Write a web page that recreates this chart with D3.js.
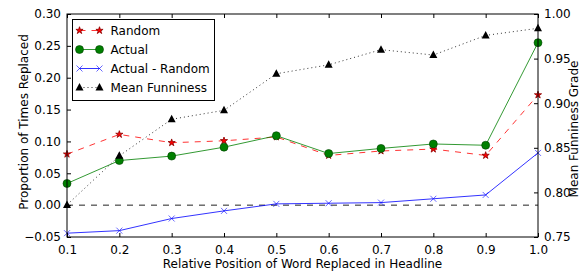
<!DOCTYPE html>
<html>
<head>
<meta charset="utf-8">
<script src="https://cdn.jsdelivr.net/npm/d3@7"></script>
<style>
  body { margin: 0; background: #fff; }
  svg text { font-family: "DejaVu Sans", sans-serif; font-size: 12px; fill: #000; }
</style>
</head>
<body>
<svg id="chart" width="582" height="273"></svg>
<script>
const positions = [0.1, 0.2, 0.3, 0.4, 0.5, 0.6, 0.7, 0.8, 0.9, 1.0];
const random = [0.080, 0.111, 0.098, 0.101, 0.107, 0.078, 0.085, 0.088, 0.078, 0.173];
const actual = [0.034, 0.070, 0.077, 0.091, 0.109, 0.081, 0.089, 0.096, 0.094, 0.255];
const actualMinusRandom = [-0.044, -0.040, -0.021, -0.009, 0.002, 0.003, 0.004, 0.010, 0.016, 0.082];
const meanFunniness = [0.786, 0.841, 0.882, 0.892, 0.933, 0.943, 0.960, 0.954, 0.976, 0.984];
const leftTicks = [-0.05, 0, 0.05, 0.10, 0.15, 0.20, 0.25, 0.30];
const rightTicks = [0.75, 0.80, 0.85, 0.90, 0.95, 1.00];

const margin = { top: 14, right: 44, bottom: 36, left: 67 };
const width = 582 - margin.left - margin.right;
const height = 273 - margin.top - margin.bottom;

const svg = d3.select('#chart');
const g = svg.append('g').attr('transform', `translate(${margin.left},${margin.top})`);

const x = d3.scaleLinear().domain([0.1, 1.0]).range([0, width]);
const yLeft = d3.scaleLinear().domain([-0.05, 0.30]).range([height, 0]);
const yRight = d3.scaleLinear().domain([0.75, 1.00]).range([height, 0]);

// zero reference line
g.append('line')
  .attr('x1', 0).attr('x2', width)
  .attr('y1', yLeft(0)).attr('y2', yLeft(0))
  .attr('stroke', '#222').attr('stroke-dasharray', '6,6');

const line = (ys, scale) => d3.line()
  .x((d, i) => x(positions[i]))
  .y(d => scale(d))(ys);

const series = [
  { name: 'Random', values: random, scale: yLeft, color: '#ff0000', dash: '6,6', marker: 'star', edge: '#8b0000', op: 0.8 },
  { name: 'Actual', values: actual, scale: yLeft, color: '#008000', dash: null, marker: 'circle', edge: '#004000', op: 0.8 },
  { name: 'Actual - Random', values: actualMinusRandom, scale: yLeft, color: '#0000ff', dash: null, marker: 'x', edge: '#0000ff', op: 0.8 },
  { name: 'Mean Funniness', values: meanFunniness, scale: yRight, color: '#000000', dash: '1,3', marker: 'triangle', edge: '#000', op: 0.8 },
];

function drawMarker(sel, s) {
  if (s.marker === 'circle') {
    sel.append('circle').attr('r', 4).attr('fill', s.color).attr('stroke', s.edge).attr('stroke-width', 0.6);
  } else if (s.marker === 'star') {
    sel.append('path').attr('d', d3.symbol(d3.symbolStar, 16)())
      .attr('fill', s.color).attr('stroke', s.edge).attr('stroke-width', 0.8);
  } else if (s.marker === 'triangle') {
    sel.append('path').attr('d', 'M0,-4.5L4,3L-4,3Z').attr('fill', '#000');
  } else if (s.marker === 'x') {
    sel.append('path').attr('d', 'M-3,-3L3,3M-3,3L3,-3')
      .attr('stroke', s.color).attr('stroke-width', 1).attr('stroke-opacity', 0.6).attr('fill', 'none');
  }
}

series.forEach(s => {
  g.append('path')
    .attr('d', line(s.values, s.scale))
    .attr('fill', 'none')
    .attr('stroke', s.color)
    .attr('stroke-opacity', s.op)
    .attr('stroke-width', 1)
    .attr('stroke-dasharray', s.dash);
  g.append('g').selectAll('g')
    .data(s.values)
    .join('g')
    .attr('transform', (d, i) => `translate(${x(positions[i])},${s.scale(d)})`)
    .each(function () { drawMarker(d3.select(this), s); });
});

// frame
g.append('rect').attr('width', width).attr('height', height)
  .attr('fill', 'none').attr('stroke', '#000').attr('stroke-width', 1);

// axes with inward ticks
const xAxis = d3.axisBottom(x).tickValues(positions).tickFormat(d3.format('.1f')).tickSizeInner(-4).tickSizeOuter(0).tickPadding(8);
const xTop = d3.axisTop(x).tickValues(positions).tickFormat('').tickSizeInner(-4).tickSizeOuter(0);
const yAxisL = d3.axisLeft(yLeft).tickValues(leftTicks).tickFormat(d3.format('.2f')).tickSizeInner(-4).tickSizeOuter(0).tickPadding(6);
const yAxisR = d3.axisRight(yRight).tickValues(rightTicks).tickFormat(d3.format('.2f')).tickSizeInner(-4).tickSizeOuter(0).tickPadding(6);

const gx = g.append('g').attr('transform', `translate(0,${height})`).call(xAxis);
const gxt = g.append('g').call(xTop);
const gyl = g.append('g').call(yAxisL);
const gyr = g.append('g').attr('transform', `translate(${width},0)`).call(yAxisR);
[gx, gxt, gyl, gyr].forEach(a => {
  a.select('.domain').remove();
  a.selectAll('line').attr('stroke', '#000');
  a.selectAll('text').attr('font-family', 'DejaVu Sans, sans-serif').attr('font-size', 12).attr('fill', '#000');
});
gyl.selectAll('text').text(d => d3.format('.2f')(d).replace('-', '\u2212'));

// axis labels
svg.append('text')
  .attr('x', margin.left + width / 2).attr('y', 268)
  .attr('text-anchor', 'middle')
  .text('Relative Position of Word Replaced in Headline');
svg.append('text')
  .attr('transform', 'translate(28,122) rotate(-90)')
  .attr('text-anchor', 'middle')
  .text('Proportion of Times Replaced');
svg.append('text')
  .attr('transform', 'translate(578,129) rotate(-90)')
  .attr('text-anchor', 'middle')
  .text('Mean Funniness Grade');

// legend
const legend = svg.append('g').attr('transform', 'translate(72.5,19.5)');
legend.append('rect').attr('width', 142).attr('height', 81)
  .attr('fill', '#fff').attr('stroke', '#000').attr('stroke-width', 1);
series.forEach((s, i) => {
  const row = legend.append('g').attr('transform', `translate(0,${11 + i * 19})`);
  row.append('line').attr('x1', 7).attr('x2', 27).attr('y1', 0).attr('y2', 0)
    .attr('stroke', s.color).attr('stroke-opacity', s.op).attr('stroke-dasharray', s.dash);
  [7, 27].forEach(px => drawMarker(row.append('g').attr('transform', `translate(${px},0)`), s));
  row.append('text').attr('x', 38).attr('y', 4.5).text(s.name);
});
</script>
</body>
</html>
